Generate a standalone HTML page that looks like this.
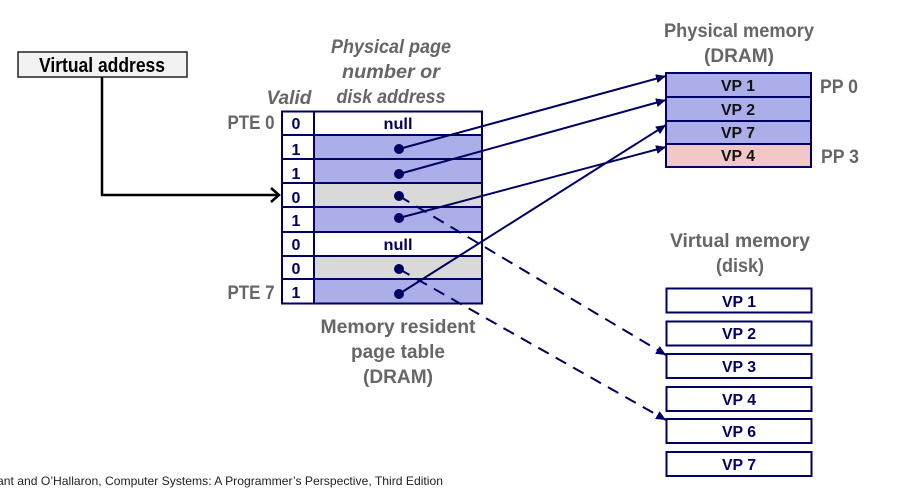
<!DOCTYPE html>
<html><head><meta charset="utf-8"><style>
html,body{margin:0;padding:0;background:#fff}
svg{display:block}
text{font-family:"Liberation Sans",sans-serif;font-weight:bold;text-anchor:middle}
.g{fill:#666;font-size:19px}
.i{fill:#666;font-size:19px;font-style:italic}
.n{fill:#000060;font-size:16px}
.k{fill:#111;font-size:16px}
</style></head><body>
<svg width="900" height="489" viewBox="0 0 900 489" xmlns="http://www.w3.org/2000/svg">
<defs>
<marker id="a" markerUnits="userSpaceOnUse" markerWidth="11" markerHeight="9" refX="10" refY="4.500" orient="auto"><path d="M0 0L10 4.500L0 9z" fill="#000060"/></marker>
</defs>
<!-- virtual address -->
<rect x="18" y="52" width="169" height="25" fill="#f2f2f2" stroke="#222" stroke-width="1.500"/>
<text x="102" y="72" font-size="20" fill="#000" textLength="126" lengthAdjust="spacingAndGlyphs">Virtual address</text>
<path d="M102 77V195H279" fill="none" stroke="#000" stroke-width="2.500"/>
<path d="M271 188L279 195L271 202" fill="none" stroke="#000" stroke-width="2.500"/>
<!-- headings -->
<text class="i" x="391" y="53" textLength="120" lengthAdjust="spacingAndGlyphs">Physical page</text>
<text class="i" x="391" y="78" textLength="98" lengthAdjust="spacingAndGlyphs">number or</text>
<text class="i" x="391" y="103" textLength="109" lengthAdjust="spacingAndGlyphs">disk address</text>
<text class="i" x="289" y="104" textLength="45" lengthAdjust="spacingAndGlyphs">Valid</text>
<text class="g" x="251" y="129" textLength="47" lengthAdjust="spacingAndGlyphs">PTE 0</text>
<text class="g" x="251" y="299" textLength="47" lengthAdjust="spacingAndGlyphs">PTE 7</text>
<!-- table -->
<rect x="282" y="111" width="200" height="24" fill="#fff"/>
<rect x="314" y="135" width="168" height="48" fill="#abaee8"/>
<rect x="314" y="183" width="168" height="24" fill="#d9d9d9"/>
<rect x="314" y="207" width="168" height="25" fill="#abaee8"/>
<rect x="314" y="256" width="168" height="23" fill="#d9d9d9"/>
<rect x="314" y="279" width="168" height="24" fill="#abaee8"/>
<g stroke="#000060" stroke-width="2" fill="none">
<rect x="282" y="111.500" width="200" height="192"/>
<path d="M314 111V304M282 135H482M282 159H482M282 183H482M282 207H482M282 232H482M282 256H482M282 279H482"/>
</g>
<text class="n" x="296" y="129">0</text>
<text class="n" x="296" y="155">1</text>
<text class="n" x="296" y="179">1</text>
<text class="n" x="296" y="203">0</text>
<text class="n" x="296" y="226">1</text>
<text class="n" x="296" y="250">0</text>
<text class="n" x="296" y="274">0</text>
<text class="n" x="296" y="298">1</text>
<text class="n" x="398" y="129" textLength="29" lengthAdjust="spacingAndGlyphs">null</text>
<text class="n" x="398" y="250" textLength="29" lengthAdjust="spacingAndGlyphs">null</text>
<!-- caption under table -->
<text class="g" x="398" y="333" textLength="155" lengthAdjust="spacingAndGlyphs">Memory resident</text>
<text class="g" x="398" y="358" textLength="94" lengthAdjust="spacingAndGlyphs">page table</text>
<text class="g" x="398" y="383" textLength="70" lengthAdjust="spacingAndGlyphs">(DRAM)</text>
<!-- physical memory -->
<text class="g" x="739" y="37" textLength="150" lengthAdjust="spacingAndGlyphs">Physical memory</text>
<text class="g" x="739" y="62" textLength="70" lengthAdjust="spacingAndGlyphs">(DRAM)</text>
<rect x="666" y="73" width="145" height="71" fill="#abaee8"/>
<rect x="666" y="144" width="145" height="23" fill="#f2c7c7"/>
<g stroke="#000060" stroke-width="2" fill="none">
<rect x="666" y="73" width="145" height="94"/>
<path d="M666 97H811M666 121H811M666 144H811"/>
</g>
<text class="k" x="738" y="91" textLength="34" lengthAdjust="spacingAndGlyphs">VP 1</text>
<text class="k" x="738" y="115" textLength="34" lengthAdjust="spacingAndGlyphs">VP 2</text>
<text class="k" x="738" y="138" textLength="34" lengthAdjust="spacingAndGlyphs">VP 7</text>
<text class="k" x="738" y="161" textLength="34" lengthAdjust="spacingAndGlyphs">VP 4</text>
<text class="g" x="839" y="93" textLength="38" lengthAdjust="spacingAndGlyphs">PP 0</text>
<text class="g" x="840" y="163" textLength="38" lengthAdjust="spacingAndGlyphs">PP 3</text>
<!-- virtual memory -->
<text class="g" x="740" y="247" textLength="140" lengthAdjust="spacingAndGlyphs">Virtual memory</text>
<text class="g" x="740" y="272" textLength="48" lengthAdjust="spacingAndGlyphs">(disk)</text>
<g fill="#fff" stroke="#000060" stroke-width="2">
<rect x="666.500" y="288.500" width="145" height="24"/>
<rect x="666.500" y="321.500" width="145" height="24"/>
<rect x="666.500" y="354" width="145" height="24"/>
<rect x="666.500" y="387" width="145" height="24"/>
<rect x="666.500" y="419" width="145" height="24"/>
<rect x="666.500" y="452" width="145" height="24"/>
</g>
<text class="n" x="739" y="307" textLength="34" lengthAdjust="spacingAndGlyphs">VP 1</text>
<text class="n" x="739" y="339" textLength="34" lengthAdjust="spacingAndGlyphs">VP 2</text>
<text class="n" x="739" y="372" textLength="34" lengthAdjust="spacingAndGlyphs">VP 3</text>
<text class="n" x="739" y="405" textLength="34" lengthAdjust="spacingAndGlyphs">VP 4</text>
<text class="n" x="739" y="437" textLength="34" lengthAdjust="spacingAndGlyphs">VP 6</text>
<text class="n" x="739" y="470" textLength="34" lengthAdjust="spacingAndGlyphs">VP 7</text>
<!-- connectors -->
<g fill="#000060">
<circle cx="399" cy="149" r="5"/><circle cx="399" cy="174" r="5"/><circle cx="399" cy="196" r="5"/><circle cx="399" cy="218" r="5"/><circle cx="399" cy="269" r="5"/><circle cx="399" cy="294" r="5"/>
</g>
<g stroke="#000060" stroke-width="2" fill="none">
<path d="M399 149L666 76" marker-end="url(#a)"/>
<path d="M399 174L666 100" marker-end="url(#a)"/>
<path d="M399 218L666 147" marker-end="url(#a)"/>
<path d="M399 294L666 125" marker-end="url(#a)"/>
<path d="M399 196L666 355" stroke-dasharray="12 8" marker-end="url(#a)"/>
<path d="M399 269L666 420" stroke-dasharray="12 8" marker-end="url(#a)"/>
</g>
<text x="443" y="485" font-size="12" fill="#222" style="font-weight:normal;text-anchor:end" textLength="446" lengthAdjust="spacingAndGlyphs">ant and O’Hallaron, Computer Systems: A Programmer’s Perspective, Third Edition</text>
</svg>
</body></html>
